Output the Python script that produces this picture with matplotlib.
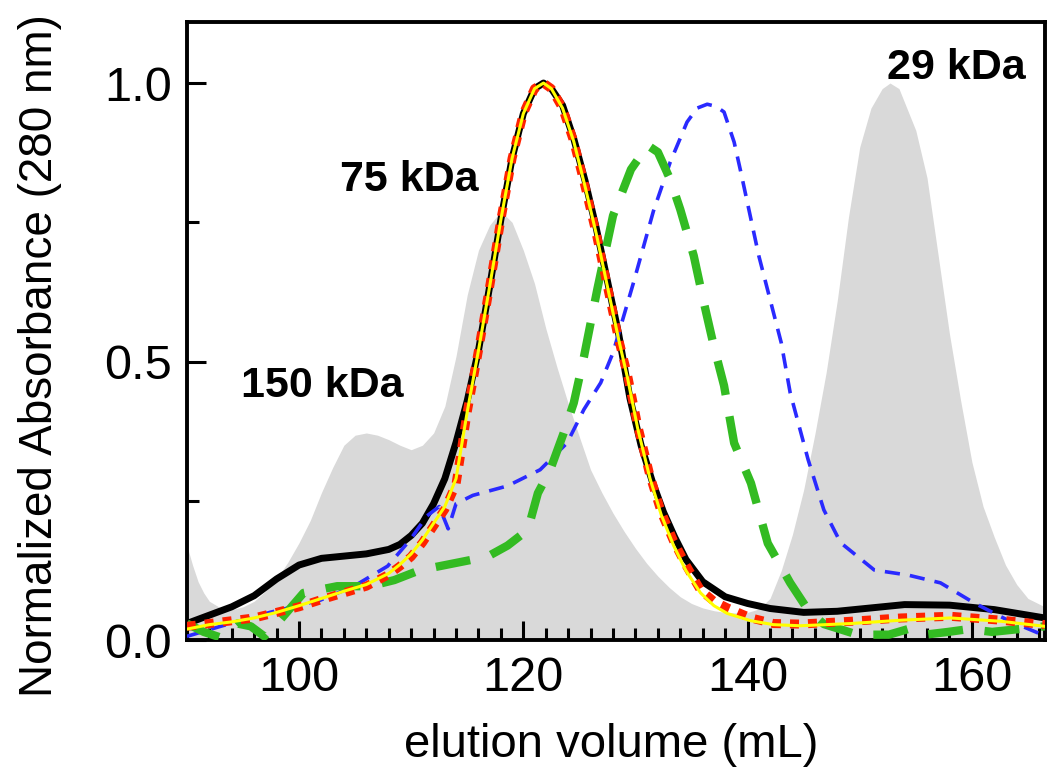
import numpy as np
import matplotlib
matplotlib.use('Agg')
import matplotlib.pyplot as plt
from matplotlib.ticker import MultipleLocator

plt.rcParams['font.family'] = ['Liberation Sans', 'DejaVu Sans']

# gray standards trace (150 / 75 / 29 kDa markers)
std_x = [90, 90.5, 91, 91.5, 92, 93, 94, 95, 96, 97, 98, 99, 100, 101, 102, 103, 104, 105, 106, 107,
         108, 109, 110, 111, 112, 113, 114, 115, 116, 117, 118, 119, 120, 121, 122, 123, 124, 125, 126,
         127, 128, 129, 130, 131, 132, 133, 134, 135, 136, 137, 138, 139, 140, 141, 142, 143, 144, 145,
         146, 147, 148, 149, 150, 151, 152, 152.7, 153.5, 154, 155, 156, 157, 158, 159, 160, 161, 162,
         163, 164, 165, 166.5]
std_y = [0.17, 0.135, 0.105, 0.085, 0.07, 0.058, 0.055, 0.06, 0.07, 0.088, 0.11, 0.14, 0.175, 0.215,
         0.265, 0.31, 0.35, 0.368, 0.372, 0.368, 0.36, 0.35, 0.342, 0.35, 0.372, 0.42, 0.51, 0.62, 0.70,
         0.745, 0.77, 0.75, 0.70, 0.64, 0.56, 0.49, 0.425, 0.365, 0.306, 0.265, 0.228, 0.195, 0.165,
         0.138, 0.115, 0.095, 0.078, 0.066, 0.058, 0.053, 0.05, 0.049, 0.05, 0.056, 0.075, 0.125, 0.19,
         0.27, 0.37, 0.48, 0.61, 0.76, 0.885, 0.955, 0.99, 1.0, 0.99, 0.965, 0.915, 0.83, 0.69, 0.55,
         0.43, 0.32, 0.24, 0.185, 0.135, 0.1, 0.075, 0.06]

# black solid trace
blk_x = [90, 92, 94, 96, 98, 100, 102, 104, 106, 108, 109, 110, 111, 112, 113, 114, 115, 116, 117, 118,
         119, 120, 121, 121.8, 122.5, 123.5, 124.5, 125.5, 126.5, 127.5, 128.5, 129.5, 130.5, 131.5,
         132.5, 133.5, 134.5, 136, 138, 140, 142, 145, 148, 151, 154, 158, 162, 166.5]
blk_y = [0.03, 0.045, 0.06, 0.08, 0.11, 0.135, 0.147, 0.151, 0.155, 0.163, 0.172, 0.188, 0.21, 0.245,
         0.29, 0.355, 0.43, 0.52, 0.635, 0.755, 0.865, 0.945, 0.99, 1.0, 0.99, 0.96, 0.9, 0.825, 0.74,
         0.645, 0.55, 0.435, 0.35, 0.285, 0.23, 0.185, 0.145, 0.105, 0.078, 0.066, 0.057, 0.05, 0.052,
         0.058, 0.064, 0.063, 0.055, 0.04]

# red dotted and yellow traces
red_x = [90, 92, 94, 96, 98, 100, 102, 104, 106, 108, 109, 110, 111, 112, 113, 114, 115, 116, 117, 118,
         119, 120, 121, 121.8, 122.5, 123.5, 124.5, 125.5, 126.5, 127.5, 128.5, 129.3, 130.2, 131.3,
         132.3, 133.4, 134.5, 135.8, 137, 138.2, 140.3, 142.3, 144.7, 149.2, 153.7, 158.1, 162.6, 166.5]
red_y = [0.025, 0.03, 0.035, 0.04, 0.05, 0.06, 0.073, 0.085, 0.097, 0.118, 0.133, 0.15, 0.175, 0.205,
         0.235, 0.28, 0.41, 0.52, 0.635, 0.755, 0.865, 0.945, 0.99, 1.0, 0.99, 0.955, 0.895, 0.815, 0.73,
         0.635, 0.54, 0.475, 0.385, 0.295, 0.23, 0.178, 0.135, 0.09, 0.07, 0.058, 0.04, 0.03, 0.029,
         0.034, 0.04, 0.043, 0.036, 0.028]
yel_y = [0.02, 0.028, 0.033, 0.04, 0.05, 0.062, 0.075, 0.088, 0.1, 0.12, 0.136, 0.155, 0.18, 0.21,
         0.24, 0.29, 0.41, 0.52, 0.635, 0.755, 0.865, 0.945, 0.99, 1.0, 0.99, 0.955, 0.895, 0.815, 0.73,
         0.635, 0.54, 0.47, 0.38, 0.29, 0.225, 0.17, 0.125, 0.085, 0.062, 0.048, 0.035, 0.028, 0.026,
         0.03, 0.036, 0.04, 0.034, 0.025]

# blue dashed trace
blu_x = [90, 93, 97.4, 101.9, 104.9, 107.9, 109.9, 111.4, 112.5, 113.3, 114, 115.5, 118.6, 121.5, 123.9,
         125.4, 126.9, 128, 129.8, 131.6, 133.1, 134.6, 135.5, 136.4, 137.2, 137.9, 138.8, 139.4, 141,
         143, 143.8, 145.4, 146.8, 148.3, 151.3, 154.3, 157.2, 160.2, 163.2, 166.5]
blu_y = [0.007, 0.025, 0.05, 0.072, 0.097, 0.133, 0.18, 0.223, 0.24, 0.2, 0.245, 0.26, 0.277, 0.306,
         0.354, 0.414, 0.462, 0.516, 0.64, 0.77, 0.858, 0.93, 0.955, 0.962, 0.958, 0.948, 0.894, 0.84,
         0.69, 0.534, 0.444, 0.324, 0.234, 0.175, 0.126, 0.117, 0.103, 0.067, 0.036, 0.008]

# green long-dashed trace
grn_x = [90, 91.5, 93, 94.5, 95.7, 96.9, 98.3, 100.4, 103.4, 106.3, 108.5, 110.8, 113.8, 116.8, 118.6,
         120.4, 121.3, 122.4, 123.6, 124.5, 125.4, 126.6, 128, 129.6, 131.1, 132, 133.1, 134, 135.2,
         136.1, 137, 137.9, 138.8, 139.4, 140.3, 141.8, 143.8, 145.4, 146.8, 149.8, 152.6, 154.3, 155.8,
         157.9, 159.7, 161.8, 164.2, 166.5]
grn_y = [0.03, 0.015, 0.005, 0.03, 0.025, 0.007, 0.036, 0.085, 0.097, 0.097, 0.108, 0.126, 0.138, 0.15,
         0.17, 0.198, 0.264, 0.306, 0.372, 0.426, 0.508, 0.63, 0.762, 0.845, 0.888, 0.876, 0.827, 0.773,
         0.69, 0.606, 0.527, 0.457, 0.354, 0.325, 0.282, 0.174, 0.103, 0.054, 0.029, 0.01, 0.01, 0.02,
         0.01, 0.015, 0.02, 0.015, 0.02, 0.025]

labels = ['150 kDa', '75 kDa', '29 kDa']
label_pos = [(102.1, 0.457), (109.8, 0.826), (158.6, 1.027)]

fig = plt.figure(figsize=(10.5, 7.77), dpi=100)
ax = fig.add_axes([0.178, 0.176, 0.817, 0.796])

ax.fill_between(std_x, std_y, 0, color='#d9d9d9', lw=0, zorder=1)
ax.plot(blk_x, blk_y, color='black', lw=5, solid_capstyle='round', zorder=2)
ax.plot(blu_x, blu_y, color='#2a2aff', lw=2.6, dashes=(4.2, 2.8), zorder=3)
ax.plot(grn_x, grn_y, color='#33bb22', lw=6, dashes=(4.2, 2.6), zorder=4)
ax.plot(red_x, red_y, color='#ff2200', lw=6.5, dashes=(1.0, 1.0), zorder=5)
ax.plot(red_x, yel_y, color='#ffff00', lw=2.2, zorder=6)

for txt, (lx, ly) in zip(labels, label_pos):
    ax.text(lx, ly, txt, fontsize=31, fontweight='bold', ha='center', va='center', zorder=7)

ax.set_xlim(90, 166.5)
ax.set_ylim(0, 1.11)
ax.xaxis.set_major_locator(MultipleLocator(20))
ax.xaxis.set_minor_locator(MultipleLocator(2))
ax.yaxis.set_major_locator(MultipleLocator(0.5))
ax.yaxis.set_minor_locator(MultipleLocator(0.25))
ax.tick_params(which='both', direction='in', top=False, right=False, width=2.2, labelsize=35)
ax.tick_params(which='major', length=14, pad=11)
ax.tick_params(which='minor', length=8.5)
for s in ax.spines.values():
    s.set_linewidth(2.8)

ax.set_xlabel('elution volume (mL)', fontsize=34, va='center')
ax.set_ylabel('Normalized Absorbance (280 nm)', fontsize=33, va='center')
ax.xaxis.set_label_coords(0.495, -0.17)
ax.yaxis.set_label_coords(-0.171, 0.461)

plt.savefig('out.png', dpi=100)
